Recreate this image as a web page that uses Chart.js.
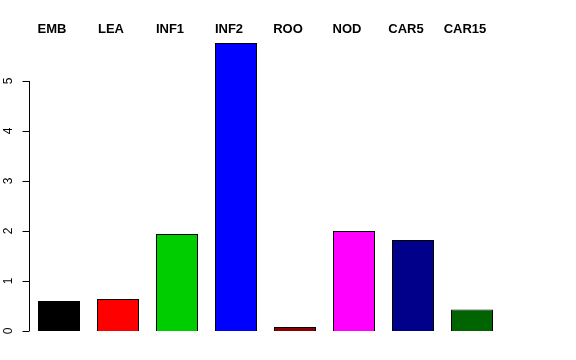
<!DOCTYPE html>
<html>
<head>
<meta charset="utf-8">
<script src="https://cdn.jsdelivr.net/npm/chart.js@4"></script>
<style>
  html, body { margin: 0; padding: 0; background: #fff; }
  #chart { display: block; }
</style>
</head>
<body>
<canvas id="chart" width="576" height="360"></canvas>
<script>
var categories = ['EMB', 'LEA', 'INF1', 'INF2', 'ROO', 'NOD', 'CAR5', 'CAR15'];
var values = [0.60, 0.64, 1.94, 5.76, 0.08, 2.00, 1.82, 0.43];
var barColors = ['#000000', '#FF0000', '#00CD00', '#0000FF', '#8B0000', '#FF00FF', '#00008B', '#006400'];
var yTicks = [0, 1, 2, 3, 4, 5];

// R-style left axis: line only spans the tick range, labels rotated
var rAxis = {
    id: 'rAxis',
    afterDraw: function (chart) {
        var c = chart.ctx;
        var y = chart.scales.y;
        var x0 = chart.chartArea.left;
        c.save();
        c.strokeStyle = '#000';
        c.lineWidth = 1;
        c.beginPath();
        c.moveTo(x0, y.getPixelForValue(yTicks[0]));
        c.lineTo(x0, y.getPixelForValue(yTicks[yTicks.length - 1]));
        yTicks.forEach(function (t) {
            var py = Math.round(y.getPixelForValue(t)) + 0.5;
            c.moveTo(x0, py);
            c.lineTo(x0 - 7, py);
        });
        c.stroke();
        c.fillStyle = '#000';
        c.font = '12px "Liberation Sans", Arial, sans-serif';
        c.textAlign = 'center';
        c.textBaseline = 'middle';
        yTicks.forEach(function (t) {
            c.save();
            c.translate(8.5, y.getPixelForValue(t));
            c.rotate(-Math.PI / 2);
            c.fillText(String(t), 0, 0);
            c.restore();
        });
        // category labels along the top
        var x = chart.scales.x;
        c.font = 'bold 13px "Liberation Sans", Arial, sans-serif';
        categories.forEach(function (name, i) {
            c.fillText(name, x.getPixelForValue(i) - 7, 29.5);
        });
        c.restore();
    }
};

var ctx = document.getElementById('chart').getContext('2d');
var chart = new Chart(ctx, {
    type: 'bar',
    data: {
        labels: categories,
        datasets: [{
            data: values,
            backgroundColor: barColors,
            borderColor: '#000',
            borderWidth: 1,
            barPercentage: 0.712,
            categoryPercentage: 1.0
        }]
    },
    options: {
        responsive: false,
        animation: false,
        layout: {
            padding: { left: 29.5, right: 74.5, top: 31, bottom: 29 }
        },
        plugins: {
            legend: { display: false },
            tooltip: { enabled: false }
        },
        scales: {
            x: { display: false },
            y: { display: false, min: 0, max: 6 }
        }
    },
    plugins: [rAxis]
});
</script>
</body>
</html>
